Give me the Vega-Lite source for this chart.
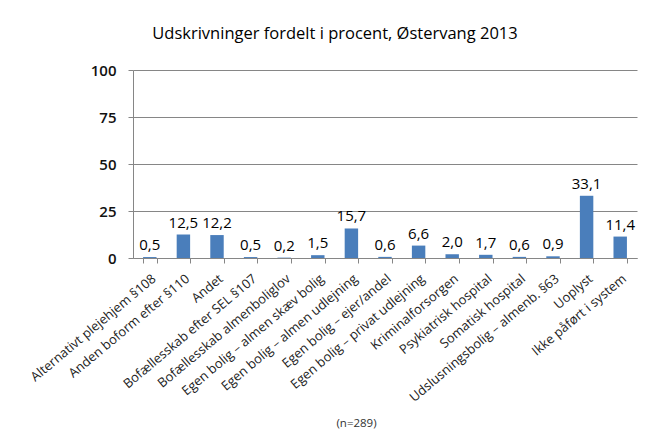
{
  "$schema": "https://vega.github.io/schema/vega-lite/v6.json",
  "autosize": "none",
  "width": 504,
  "height": 188,
  "padding": {"left": 133, "top": 70, "right": 14, "bottom": 186},
  "background": "white",
  "config": {
    "locale": {"number": {"decimal": ",", "thousands": ".", "grouping": [3], "currency": ["", " kr."]}},
    "view": {"stroke": null},
    "font": "Open Sans"
  },
  "title": {
    "text": "Udskrivninger fordelt i procent, Østervang 2013",
    "font": "Open Sans",
    "fontSize": 16.5,
    "fontWeight": "normal",
    "color": "#000000",
    "anchor": "middle",
    "dx": -50,
    "offset": 21
  },
  "data": {
    "values": [
      {"kategori": "Alternativt plejehjem §108", "pct": 0.5},
      {"kategori": "Anden boform efter §110", "pct": 12.5},
      {"kategori": "Andet", "pct": 12.2},
      {"kategori": "Bofællesskab efter SEL §107", "pct": 0.5},
      {"kategori": "Bofællesskab almenboliglov", "pct": 0.2},
      {"kategori": "Egen bolig – almen skæv bolig", "pct": 1.5},
      {"kategori": "Egen bolig – almen udlejning", "pct": 15.7},
      {"kategori": "Egen bolig – ejer/andel", "pct": 0.6},
      {"kategori": "Egen bolig – privat udlejning", "pct": 6.6},
      {"kategori": "Kriminalforsorgen", "pct": 2.0},
      {"kategori": "Psykiatrisk hospital", "pct": 1.7},
      {"kategori": "Somatisk hospital", "pct": 0.6},
      {"kategori": "Udslusningsbolig – almenb. §63", "pct": 0.9},
      {"kategori": "Uoplyst", "pct": 33.1},
      {"kategori": "Ikke påført i system", "pct": 11.4}
    ]
  },
  "encoding": {
    "x": {
      "field": "kategori",
      "type": "nominal",
      "sort": null,
      "scale": {"paddingInner": 0.6, "paddingOuter": 0.3},
      "axis": {
        "title": "(n=289)",
        "titleFont": "Open Sans",
        "titleFontSize": 11.5,
        "titleFontWeight": "normal",
        "titleColor": "#333333",
        "titleX": 223,
        "titleY": 165,
        "titleBaseline": "middle",
        "titleAnchor": null,
        "titleAlign": "center",
        "labelAngle": -40,
        "labelFont": "Open Sans",
        "labelFontSize": 13,
        "labelColor": "#222222",
        "labelPadding": 9,
        "labelOverlap": false,
        "labelLimit": 300,
        "domainColor": "#868686",
        "tickColor": "#868686",
        "tickSize": 5,
        "tickBand": "extent"
      }
    },
    "y": {
      "field": "pct",
      "type": "quantitative",
      "scale": {"domain": [0, 100], "nice": false},
      "axis": {
        "title": null,
        "values": [0, 25, 50, 75, 100],
        "labelFont": "Open Sans",
        "labelFontSize": 15,
        "labelFontWeight": 600,
        "labelColor": "#111111",
        "labelPadding": 12,
        "domainColor": "#868686",
        "tickColor": "#868686",
        "tickSize": 5,
        "gridColor": "#868686",
        "gridWidth": 1
      }
    }
  },
  "layer": [
    {"mark": {"type": "bar", "color": "#4a7ebb"}},
    {
      "mark": {"type": "text", "baseline": "bottom", "dy": -4, "font": "Open Sans", "fontSize": 15, "color": "#000000"},
      "encoding": {"text": {"field": "pct", "type": "quantitative", "format": ".1f"}}
    }
  ]
}
